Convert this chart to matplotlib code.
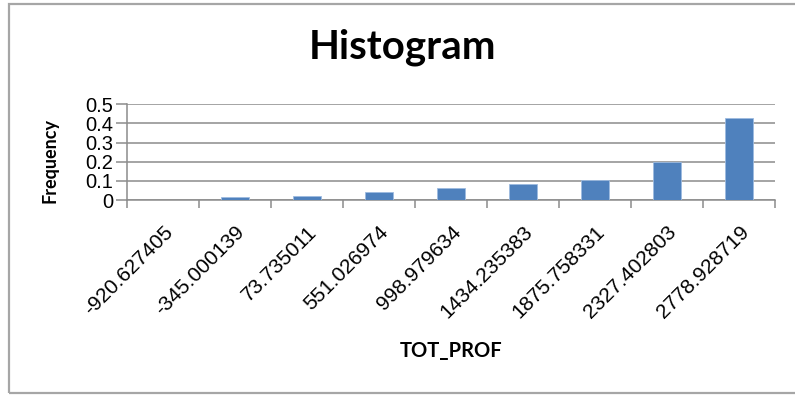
import matplotlib
matplotlib.use('Agg')
import matplotlib.pyplot as plt
import matplotlib.patches as patches
import numpy as np

# bin labels and relative frequencies
bins = ['-920.627405', '-345.000139', '73.735011', '551.026974', '998.979634',
        '1434.235383', '1875.758331', '2327.402803', '2778.928719']
freq = [0.0, 0.014, 0.022, 0.043, 0.064, 0.085, 0.105, 0.20, 0.43]
yticks = [0, 0.1, 0.2, 0.3, 0.4, 0.5]
ytick_labels = ['0', '0.1', '0.2', '0.3', '0.4', '0.5']

W, H = 795, 395
fig = plt.figure(figsize=(W / 100, H / 100), dpi=100)
fig.patch.set_facecolor('white')

# outer chart border
border = patches.Rectangle((9 / W, 1 - 393 / H), 1.0, (393 - 4) / H,
                           transform=fig.transFigure, fill=False,
                           edgecolor='#a6a6a6', linewidth=1.6)
fig.patches.append(border)

ax = fig.add_axes([127 / W, 1 - 200 / H, (775 - 127) / W, (200 - 104.3) / H])

x = np.arange(len(bins))
ax.bar(x, freq, width=0.4, color='#4f81bd', edgecolor='#9dbbe0',
       linewidth=0.6, zorder=3)

ax.set_xlim(-0.5, len(bins) - 0.5)
ax.set_ylim(0, 0.5)

# horizontal gridlines
ax.set_yticks(yticks)
ax.set_yticklabels(ytick_labels, family='Liberation Sans', fontsize=14.5)
ax.yaxis.grid(True, color='#8c8c8c', linewidth=1.1, zorder=0)
ax.tick_params(axis='y', length=8, color='#8c8c8c', width=1.1, pad=2)

# ticks between categories, labels at centres
ax.set_xticks(np.arange(len(bins) + 1) - 0.5)
ax.set_xticklabels([])
ax.set_xticks(x, minor=True)
ax.set_xticklabels(bins, minor=True, rotation=45, ha='right', va='top',
                   rotation_mode='anchor', family='Liberation Sans',
                   fontsize=15)
ax.tick_params(axis='x', which='major', length=6, color='#8c8c8c', width=1.1)
ax.tick_params(axis='x', which='minor', length=0, pad=16)

for side in ['top', 'right']:
    ax.spines[side].set_visible(False)
for side in ['left', 'bottom']:
    ax.spines[side].set_color('#8c8c8c')
    ax.spines[side].set_linewidth(1.1)

fig.text(403 / W, 1 - 59 / H, 'Histogram', ha='center', va='baseline',
         family='Lato', fontweight='bold', fontsize=29)
fig.text(451 / W, 1 - 357 / H, 'TOT_PROF', ha='center', va='baseline',
         family='Lato', fontweight='bold', fontsize=14.5)
fig.text(50 / W, 1 - 161 / H, 'Frequency', ha='center', va='center',
         rotation=90, family='Lato', fontweight='bold', fontsize=13)

fig.savefig('out.png', dpi=100)
